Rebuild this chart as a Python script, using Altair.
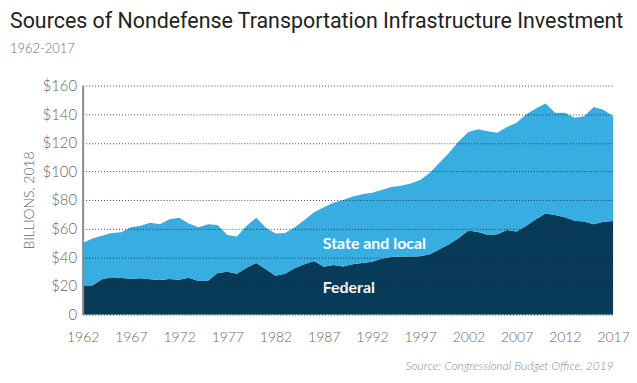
import altair as alt
import pandas as pd

years = list(range(1962, 2018))
federal = [20, 20.2, 24.5, 26, 25.5, 25, 25.2, 24.5, 24, 24.7,
           24.2, 25.6, 23.3, 23.5, 29, 29.8, 28.4, 32.6, 36, 31.5,
           27, 28.5, 32.5, 35, 37.3, 33.3, 34.5, 33.5, 35, 36,
           36.8, 38.9, 40.2, 40.4, 40.4, 40.6, 42, 45.5, 49, 53.5,
           58.7, 57.6, 55.5, 56, 59, 58, 62, 66.5, 70.6, 69.5,
           68, 65.5, 65, 63, 64.8, 65.3]
state_local = [30, 32.8, 30.5, 31, 32, 36, 36.8, 39.5, 39, 41.8,
               43.3, 37.9, 37.7, 39.5, 33.5, 25.7, 26.1, 29.4, 31.5, 29,
               29.5, 28.5, 28.5, 31, 34.2, 41.7, 43.5, 46.5, 47.5, 48,
               48.2, 48.1, 48.8, 49.6, 51.1, 53.4, 57, 60.5, 64, 67.5,
               68.8, 71.9, 72.5, 71, 72, 76, 78, 77.5, 76.9, 71.5,
               73, 72, 73.5, 82, 78.2, 73.2]
series_names = ["Federal", "State and local"]
series_colors = ["#073b57", "#38ade2"]
x_ticks = list(range(1962, 2018, 5))
y_ticks = list(range(0, 161, 20))

rows = []
for y, f, s in zip(years, federal, state_local):
    rows.append({"year": y, "series": "Federal", "value": f, "ord": 0})
    rows.append({"year": y, "series": "State and local", "value": s, "ord": 1})
df = pd.DataFrame(rows)

labels_df = pd.DataFrame({
    "year": [1986.9, 1986.9],
    "value": [49.4, 18.8],
    "text": ["State and local", "Federal"],
})

area = alt.Chart(df).mark_area(interpolate="linear").encode(
    x=alt.X("year:Q",
            scale=alt.Scale(domain=[1962, 2017], nice=False, zero=False),
            axis=alt.Axis(values=x_ticks, tickCount=20, format="d", grid=False, ticks=False,
                          labelOverlap=False, labelFlush=False,
                          domain=True, domainColor="#d3dde3", domainWidth=1,
                          labelPadding=16, labelFontSize=14, labelColor="#666666",
                          labelFont="Lato", labelFontWeight=300,
                          title="Source: Congressional Budget Office, 2019",
                          titleAnchor="end", titleAlign="right", titleFont="Lato",
                          titleFontStyle="italic", titleFontWeight=300,
                          titleFontSize=12, titleColor="#8a8a8a", titlePadding=16)),
    y=alt.Y("value:Q", stack="zero",
            scale=alt.Scale(domain=[0, 160], nice=False),
            axis=alt.Axis(values=y_ticks, tickCount=20, labelOverlap=False, labelFlush=False,
                          labelExpr="datum.value == 0 ? '0' : '$' + datum.value",
                          grid=True, gridDash=[1, 2], gridColor="#222", gridWidth=1,
                          gridOpacity=0.85,
                          ticks=False, domain=True, domainColor="#8a8a8a", domainWidth=2,
                          labelPadding=6, labelFontSize=15, labelColor="#666666",
                          labelFont="Lato", labelFontWeight=300,
                          title="BILLIONS, 2018", titleFont="Lato", titleFontSize=14,
                          titleFontWeight=300, titleColor="#666666", titlePadding=6,
                          zindex=1)),
    color=alt.Color("series:N",
                    scale=alt.Scale(domain=series_names, range=series_colors),
                    legend=None),
    order=alt.Order("ord:Q"),
)

text = alt.Chart(labels_df).mark_text(
    align="left", baseline="middle", font="Lato", fontSize=16,
    fontWeight="bold", color="white"
).encode(
    x="year:Q",
    y="value:Q",
    text="text:N",
)

chart = alt.layer(area, text).properties(
    width=533,
    height=230,
    padding={"left": 75, "top": 77, "right": 16, "bottom": 66},
    autosize=alt.AutoSizeParams(type="none"),
    title=alt.TitleParams(
        text="Sources of Nondefense Transportation Infrastructure Investment",
        subtitle="1962-2017",
        anchor="start", frame="group", dx=-73, offset=23,
        font="Roboto", fontSize=21.5, fontWeight="normal", color="#222222",
        subtitleFont="Lato", subtitleFontSize=13, subtitleColor="#6f6f6f",
        subtitleFontWeight=300, subtitlePadding=10,
    ),
).configure_view(stroke=None)

chart.save("out.html", embed_options={"renderer": "svg", "actions": False})
